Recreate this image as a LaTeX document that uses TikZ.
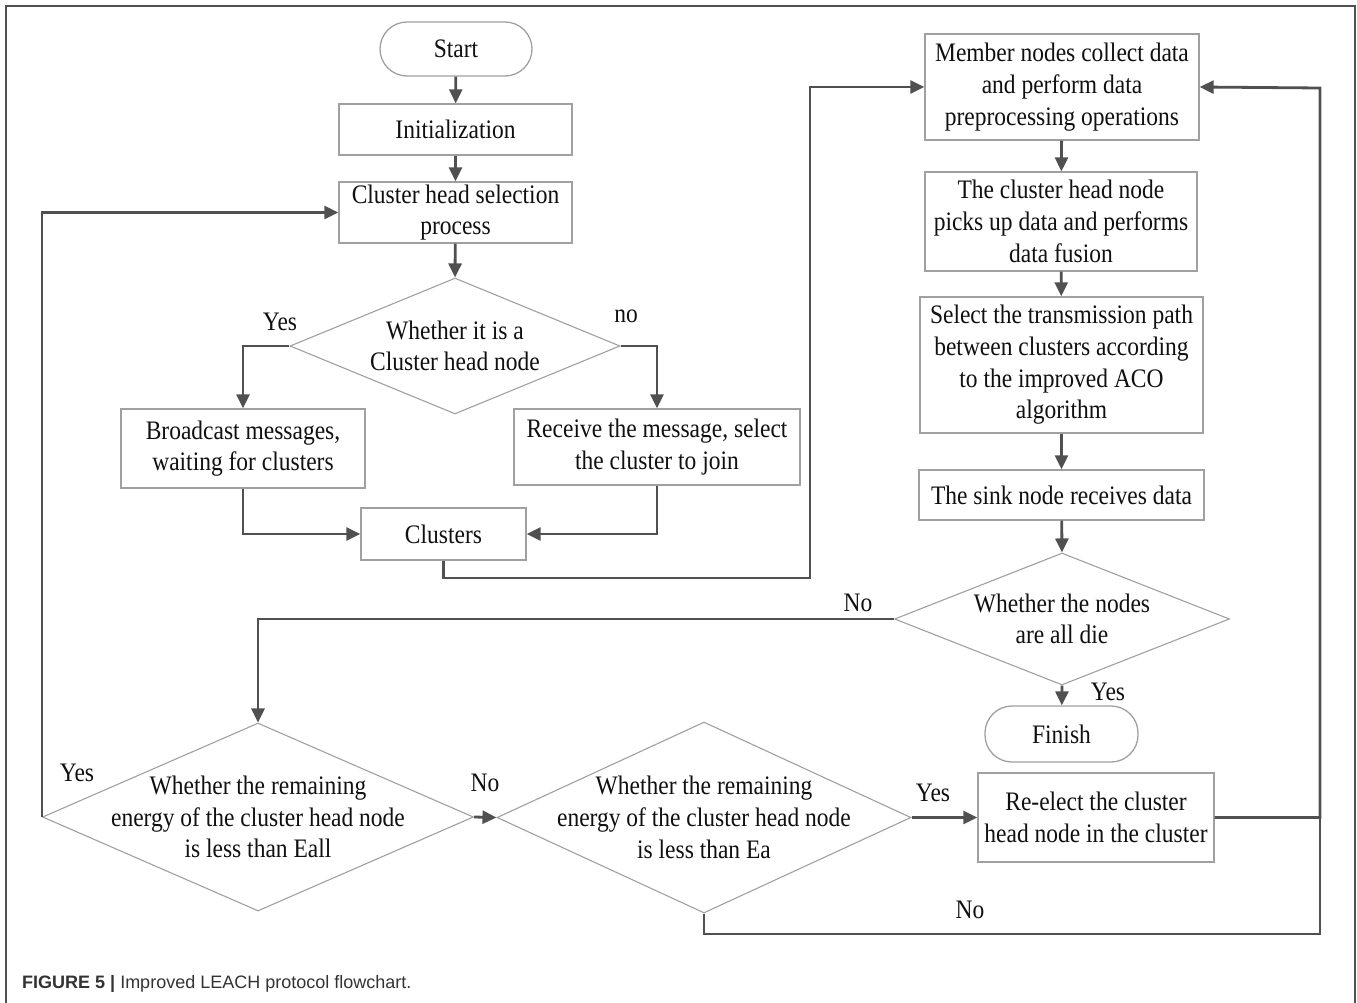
\documentclass[tikz,border=0pt]{standalone}
\usepackage{fontspec}
\setmainfont{Liberation Serif}[FakeStretch=0.88]
\newfontfamily\capfont{Liberation Sans}
\usetikzlibrary{shapes.geometric,arrows.meta,calc}
\definecolor{conn}{HTML}{505050}
\definecolor{boxc}{HTML}{A0A0A0}
\definecolor{txt}{HTML}{101010}
\begin{document}
\begin{tikzpicture}[x=1pt,y=-1pt,
  every node/.style={text=txt,font=\fontsize{26.7}{31.7}\selectfont},
  proc/.style={draw=boxc,line width=1.3pt,fill=white,rectangle,inner sep=0pt,align=center},
  term/.style={draw=boxc,line width=1.3pt,fill=white,rectangle,rounded corners=27pt,inner sep=0pt,align=center},
  dia/.style={draw=boxc,line width=1.1pt,fill=white,diamond,inner sep=0pt},
  dtext/.style={align=center,inner sep=0pt},
  lbl/.style={inner sep=0pt},
  arr/.style={draw=conn,line width=2.8pt,-{Triangle[length=14pt,width=13pt]}},
  ln/.style={draw=conn,line width=2.8pt}
]
\useasboundingbox (0,0) rectangle (1357,1003);
\draw[conn,line width=1.4pt] (6,1010) -- (6,6) -- (1355,6) -- (1355,1010);

% left column
\node[term,minimum width=152pt,minimum height=54pt] (start) at (456,49) {Start};
\node[proc,minimum width=233pt,minimum height=51pt] (init) at (455.5,129.5) {Initialization};
\node[proc,minimum width=233pt,minimum height=61pt] (chs) at (455.5,212.5) {Cluster head selection\\process};
\node[dia,minimum width=330pt,minimum height=136pt] (d1) at (455,346) {};
\node[dtext] (d1t) at (d1.center) {Whether it is a\\Cluster head node};
\node[proc,minimum width=244pt,minimum height=79pt] (bcast) at (243,448.5) {Broadcast messages,\\waiting for clusters};
\node[proc,minimum width=286pt,minimum height=76pt] (recv) at (657,447) {Receive the message, select\\the cluster to join};
\node[proc,minimum width=165pt,minimum height=52pt] (clus) at (443.5,534) {Clusters};

% right column
\node[proc,minimum width=274pt,minimum height=106pt] (member) at (1062,87) {Member nodes collect data\\and perform data\\preprocessing operations};
\node[proc,minimum width=272pt,minimum height=99pt] (pick) at (1061,221.5) {The cluster head node\\picks up data and performs\\data fusion};
\node[proc,minimum width=283pt,minimum height=136pt] (sel) at (1061.5,365) {Select the transmission path\\between clusters according\\to the improved ACO\\algorithm};
\node[proc,minimum width=285pt,minimum height=50pt] (sink) at (1061.5,495) {The sink node receives data};
\node[dia,minimum width=335pt,minimum height=132pt] (d2) at (1062,619) {};
\node[dtext] (d2t) at (d2.center) {Whether the nodes\\are all die};
\node[term,minimum width=153pt,minimum height=56pt] (fin) at (1061.5,734) {Finish};

% bottom row
\node[dia,minimum width=431pt,minimum height=188pt] (d3) at (258,817) {};
\node[dtext] (d3t) at (d3.center) {Whether the remaining\\energy of the cluster head node\\is less than Eall};
\node[dia,minimum width=414pt,minimum height=191pt] (d4) at (704,817.5) {};
\node[dtext] (d4t) at (d4.center) {Whether the remaining\\energy of the cluster head node\\is less than Ea};
\node[proc,minimum width=236pt,minimum height=89pt] (reel) at (1096,817.5) {Re-elect the cluster\\head node in the cluster};

% helper coordinates
\coordinate (c1) at (810,578);
\coordinate (c2) at (1320,88);
\coordinate (c3) at (1320,934);

% connectors
\draw[arr] (start) -- (init);
\draw[arr] (init) -- (chs);
\draw[arr] (chs) -- (d1.north);
\draw[arr] (d1.west) -| (bcast.north);
\draw[arr] (d1.east) -| (recv.north);
\draw[arr] (bcast.south) |- (clus.west);
\draw[arr] (recv.south) |- (clus.east);
\draw[arr] (clus.south) |- (c1) |- (member.west);
\draw[arr] (member) -- (pick);
\draw[arr] (pick) -- (sel);
\draw[arr] (sel) -- (sink);
\draw[arr] (sink) -- (d2.north);
\draw[arr] (d2.south) -- (fin);
\draw[arr] (d2.west) -| (d3.north);
\draw[arr] (d3.west) |- (chs.west);
\draw[arr] (d3.east) -- (d4.west);
\draw[arr] (d4.east) -- (reel.west);
\draw[arr] (reel.east) -| (c2) -- (member.east);
\draw[ln] (d4.south) |- (c3) -- (1320,817);

% labels
\node[lbl] (l1) at (280,322) {Yes};
\node[lbl] (l2) at (626,316) {no};
\node[lbl] (l3) at (858,603) {No};
\node[lbl] (l4) at (1108,692) {Yes};
\node[lbl] (l5) at (77,773) {Yes};
\node[lbl] (l6) at (485,783) {No};
\node[lbl] (l7) at (933,793) {Yes};
\node[lbl] (l8) at (970,910) {No};

% caption
\node[anchor=west,inner sep=0pt,text=black!80,font=\capfont\fontsize{18}{20}\selectfont] (cap) at (22,984) {\textbf{FIGURE 5 |} Improved LEACH protocol flowchart.};
\end{tikzpicture}
\end{document}
